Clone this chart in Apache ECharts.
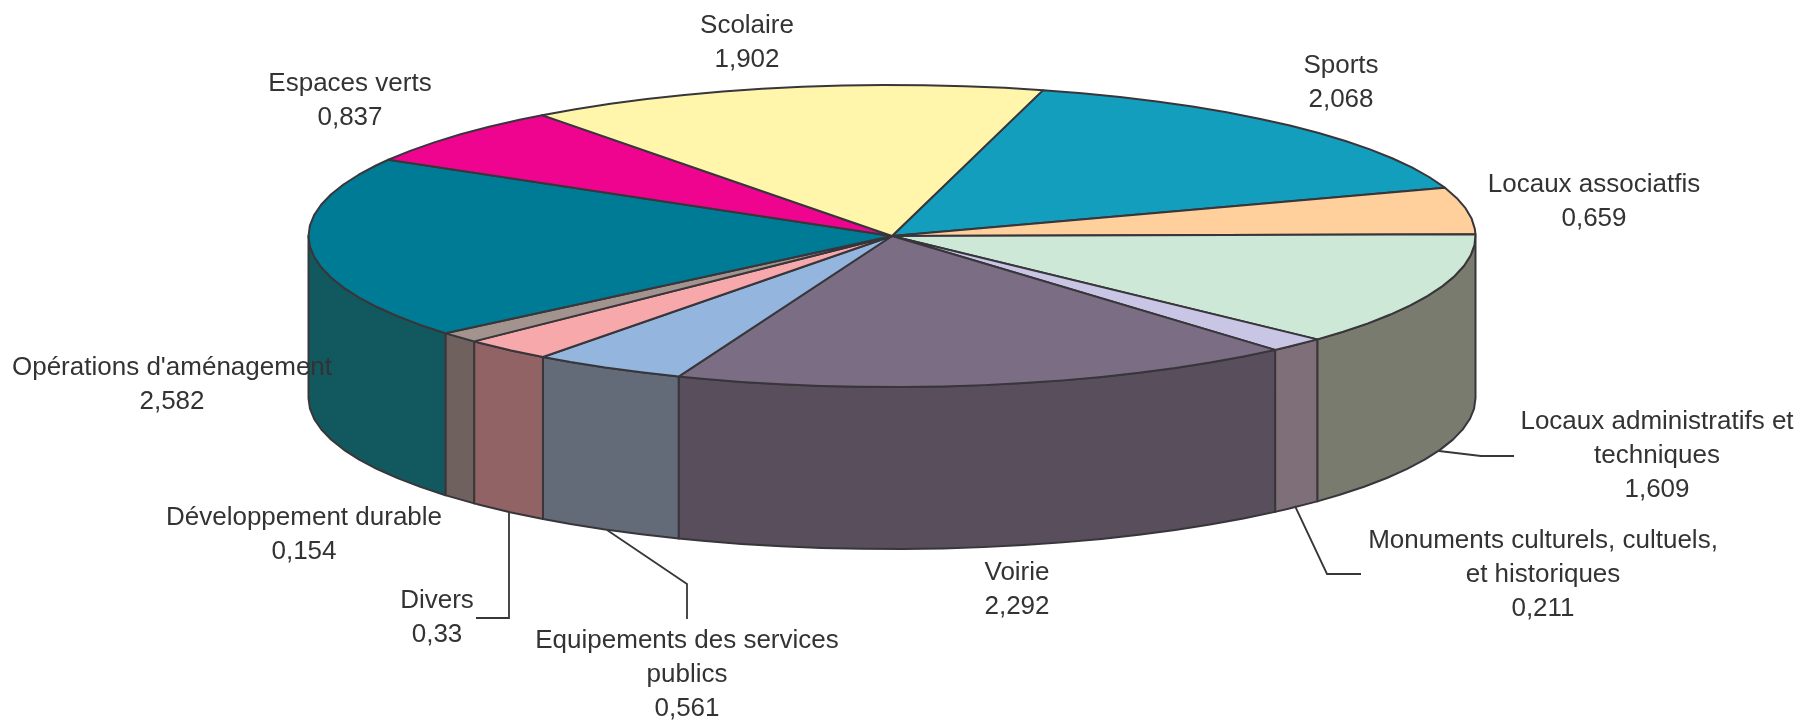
<!DOCTYPE html>
<html>
<head>
<meta charset="utf-8">
<style>
  html, body { margin: 0; padding: 0; background: #fff; }
  #pie { width: 1805px; height: 721px; }
</style>
<script src="https://cdn.jsdelivr.net/npm/echarts@6/dist/echarts.min.js"></script>
</head>
<body>
<div id="pie"></div>
<script>
const categories = ['Sports', 'Locaux associatfis', 'Locaux administratifs et\ntechniques',
  'Monuments culturels, cultuels,\net historiques', 'Voirie', 'Equipements des services\npublics',
  'Divers', 'Développement durable', "Opérations d'aménagement", 'Espaces verts', 'Scolaire'];
const values = [2.068, 0.659, 1.609, 0.211, 2.292, 0.561, 0.33, 0.154, 2.582, 0.837, 1.902];
const topColors = ['#139ebe', '#ffd09b', '#cde8d6', '#c8c6e4', '#7b6e84', '#93b5de',
  '#f7a8aa', '#a2938e', '#007b96', '#ef0490', '#fff6ac'];
const sideColors = ['#0d6f85', '#b3926d', '#7a7b6f', '#7f6f78', '#584e5c', '#646b78',
  '#926364', '#6f615d', '#12595f', '#a70365', '#b3ac78'];

// pie geometry, in page pixels
const cx = 892, cy = 236, rx = 583.5, ry = 151, depth = 162;
const startAngle = 15;
const step = 4;

// where each label sits, and the leader lines of the ones that have one
const labelPos = [[1341, 83], [1594, 202], [1657, 456], [1543, 575], [1017, 590], [687, 675],
  [437, 618], [304, 535], [172, 385], [350, 101], [747, 43]];
const leaders = {
  2: [[1439, 451], [1481, 456], [1514, 456]],
  3: [[1295, 506], [1327, 574], [1361, 574]],
  5: [[607, 530], [687, 584], [687, 619]],
  6: [[509, 512], [509, 618], [476, 618]]
};

const total = values.reduce((a, b) => a + b, 0);
const lineColor = '#38363b';
const textColor = '#333333';

// value -> degrees clockwise from the top of the pie
function toAngle(v) {
  return echarts.number.linearMap(v, [0, total], [startAngle, startAngle + 360]);
}

function rimPoint(deg, dy) {
  const a = deg * Math.PI / 180;
  return [cx + rx * Math.sin(a), cy - ry * Math.cos(a) + dy];
}

function arc(from, to, dy) {
  const pts = [];
  for (let d = from; d < to; d += step) pts.push(rimPoint(d, dy));
  pts.push(rimPoint(to, dy));
  return pts;
}

function renderSlice(params, api) {
  const i = params.dataIndex;
  const before = values.slice(0, i).reduce((a, b) => a + b, 0);
  const from = toAngle(before);
  const to = toAngle(before + api.value(0));
  const children = [];

  // only the front half of the rim (90..270) shows a wall
  [0, 360].forEach(turn => {
    const a = Math.max(from, 90 + turn);
    const b = Math.min(to, 270 + turn);
    if (a < b) {
      children.push({
        type: 'polygon',
        shape: { points: arc(a, b, 0).concat(arc(a, b, depth).reverse()) },
        style: { fill: sideColors[i], stroke: lineColor, lineWidth: 2, lineJoin: 'round' }
      });
    }
  });

  children.push({
    type: 'polygon',
    shape: { points: [[cx, cy]].concat(arc(from, to, 0)) },
    style: { fill: topColors[i], stroke: lineColor, lineWidth: 2, lineJoin: 'round' }
  });
  return { type: 'group', children: children };
}

function renderLabel(params, api) {
  const i = params.dataIndex;
  const children = [{
    type: 'text',
    x: labelPos[i][0],
    y: labelPos[i][1],
    style: {
      text: categories[i] + '\n' + String(api.value(0)).replace('.', ','),
      fill: textColor,
      font: '26px "Liberation Sans", Arial, sans-serif',
      lineHeight: 34,
      align: 'center',
      verticalAlign: 'middle'
    }
  }];
  if (leaders[i]) {
    children.push({
      type: 'polyline',
      shape: { points: leaders[i] },
      style: { fill: 'none', stroke: lineColor, lineWidth: 1.8 }
    });
  }
  return { type: 'group', children: children };
}

let myChart = echarts.init(document.getElementById('pie'));
let option = {
  backgroundColor: '#ffffff',
  animation: false,
  series: [
    { type: 'custom', coordinateSystem: 'none', renderItem: renderSlice, data: values, z: 2, silent: true },
    { type: 'custom', coordinateSystem: 'none', renderItem: renderLabel, data: values, z: 3, silent: true }
  ]
};
myChart.setOption(option);
</script>
</body>
</html>
